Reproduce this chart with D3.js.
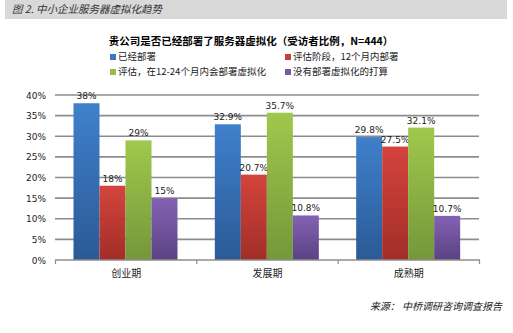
<!DOCTYPE html>
<html><head><meta charset="utf-8">
<script src="https://cdn.jsdelivr.net/npm/d3@7"></script>
<style>body{margin:0;background:#fff;}svg{display:block;font-family:"Noto Sans CJK SC","DejaVu Sans",sans-serif;}</style>
</head><body>
<script>
const categories = ["创业期","发展期","成熟期"];
const seriesNames = ["已经部署","评估阶段，12个月内部署","评估，在12-24个月内会部署虚拟化","没有部署虚拟化的打算"];
const s1 = [38, 32.9, 29.8];
const s2 = [18, 20.7, 27.5];
const s3 = [29, 35.7, 32.1];
const s4 = [15, 10.8, 10.7];
const labels1 = ["38%","32.9%","29.8%"];
const labels2 = ["18%","20.7%","27.5%"];
const labels3 = ["29%","35.7%","32.1%"];
const labels4 = ["15%","10.8%","10.7%"];
const yTicks = [0,5,10,15,20,25,30,35,40];
const series = [s1,s2,s3,s4];
const seriesLabels = [labels1,labels2,labels3,labels4];
const colTop = ["#3f80cc","#d4443d","#a0c84c","#8462b4"];
const colBot = ["#2b5a96","#a22e28","#74973a","#5a4282"];
const legendColors = ["#3d78c0","#c8403a","#96bc48","#7a5aa8"];

const W=513,H=333;
const svg=d3.select("body").append("svg").attr("width",W).attr("height",H);
const defs=svg.append("defs");
colTop.forEach((c,i)=>{
  const g=defs.append("linearGradient").attr("id","g"+i).attr("x1",0).attr("y1",0).attr("x2",0).attr("y2",1);
  g.append("stop").attr("offset","0%").attr("stop-color",c);
  g.append("stop").attr("offset","100%").attr("stop-color",colBot[i]);
});

// header band
svg.append("rect").attr("x",5).attr("y",0).attr("width",502).attr("height",19).attr("fill","#d9d9d9");
svg.append("text").attr("x",12).attr("y",13).attr("font-size",10.5).attr("font-style","italic").attr("fill","#333")
  .text("图 2. 中小企业服务器虚拟化趋势");

// title
svg.append("text").attr("x",251).attr("y",45).attr("text-anchor","middle").attr("font-size",10.5).attr("font-weight","bold").attr("fill","#000")
  .text("贵公司是否已经部署了服务器虚拟化（受访者比例，N=444）");

// legend
const legPos=[[110,60],[285,60],[110,75],[285,75]];
seriesNames.forEach((n,i)=>{
  const [lx,ly]=legPos[i];
  svg.append("rect").attr("x",lx).attr("y",ly-6).attr("width",6).attr("height",6).attr("fill",legendColors[i]);
  svg.append("text").attr("x",lx+8).attr("y",ly).attr("font-size",9.5).attr("fill","#222").text(n);
});

const y=d3.scaleLinear().domain([0,40]).range([260,95]);
const x0=d3.scaleBand().domain(categories).range([55.5,479.5]);
const x1=d3.scaleBand().domain(d3.range(4)).range([18,122]);

// grid
svg.append("g").selectAll("line").data(yTicks.filter(t=>t>0)).join("line")
  .attr("x1",55).attr("x2",479).attr("y1",d=>y(d)).attr("y2",d=>y(d))
  .attr("stroke","#8c8c8c").attr("stroke-width",1.6);

// y labels
svg.append("g").selectAll("text").data(yTicks).join("text")
  .attr("x",46).attr("y",d=>y(d)+3.5).attr("text-anchor","end").attr("font-size",9).attr("fill","#222")
  .attr("font-family","DejaVu Sans, sans-serif")
  .text(d=>d+"%");

// bars
categories.forEach((c,ci)=>{
  series.forEach((s,si)=>{
    const bx=x0(c)+x1(si), bw=x1.bandwidth();
    svg.append("rect").attr("x",bx).attr("y",y(s[ci])).attr("width",bw).attr("height",y(0)-y(s[ci]))
      .attr("fill",`url(#g${si})`);
    svg.append("text").attr("x",bx+bw/2).attr("y",y(s[ci])-4).attr("text-anchor","middle")
      .attr("font-size",9).attr("fill","#222").attr("font-family","DejaVu Sans, sans-serif")
      .text(seriesLabels[si][ci]);
  });
});

// x axis
const xa=svg.append("g").attr("transform","translate(0,260)");
xa.append("line").attr("x1",55).attr("x2",480).attr("stroke","#8c8c8c").attr("stroke-width",1.6);
const bounds=[x0.range()[0]].concat(categories.map(c=>x0(c)+x0.bandwidth()));
xa.selectAll(".tk").data(bounds).join("line").attr("x1",d=>d).attr("x2",d=>d).attr("y1",0).attr("y2",4)
  .attr("stroke","#8c8c8c").attr("stroke-width",1.2);
xa.selectAll(".cl").data(categories).join("text")
  .attr("x",d=>x0(d)+x0.bandwidth()/2).attr("y",17).attr("text-anchor","middle").attr("font-size",10).attr("fill","#222")
  .text(d=>d);

// source
svg.append("text").attr("x",502).attr("y",310).attr("text-anchor","end").attr("font-size",10).attr("font-style","italic").attr("fill","#222")
  .text("来源：  中桥调研咨询调查报告");
</script>
</body></html>
